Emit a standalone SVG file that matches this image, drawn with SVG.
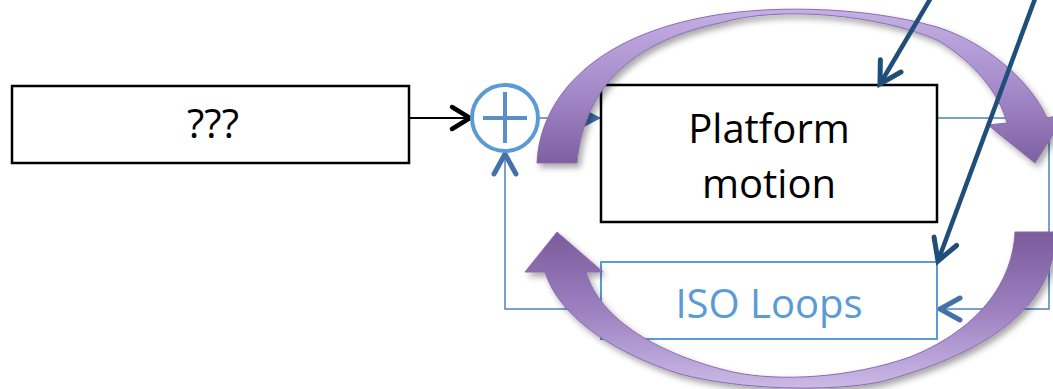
<svg xmlns="http://www.w3.org/2000/svg" width="1053" height="389" viewBox="0 0 1053 389">
<style>
.box{fill:#fff;stroke:#000;stroke-width:2.5}
.iso{fill:#fff;stroke:#5b9bd5;stroke-width:2}
.lbl{font-family:"Open Sans","Liberation Sans",sans-serif;font-size:40px;text-anchor:middle;fill:#000}
.blue{fill:none;stroke:#4f81bd;stroke-width:1.5}
.navy{fill:none;stroke:#1f4e79;stroke-width:4.5}
.purple{stroke:#8a6bb0;stroke-width:1;filter:url(#sh)}
</style>
<defs>
<filter id="sh" x="-10%" y="-10%" width="120%" height="130%">
<feDropShadow dx="3" dy="4" stdDeviation="3" flood-color="#000" flood-opacity="0.35"/>
</filter>
<linearGradient id="gUp" gradientUnits="userSpaceOnUse" x1="0" y1="165" x2="0" y2="10">
<stop offset="0" stop-color="#7d5f9f"/>
<stop offset="0.5" stop-color="#a68bca"/>
<stop offset="1" stop-color="#c4b0e3"/>
</linearGradient>
<linearGradient id="gDn" gradientUnits="userSpaceOnUse" x1="0" y1="232" x2="0" y2="388">
<stop offset="0" stop-color="#7b5b9b"/>
<stop offset="0.5" stop-color="#9c80bf"/>
<stop offset="1" stop-color="#cbb9e7"/>
</linearGradient>
<marker id="chevBlk" markerUnits="userSpaceOnUse" markerWidth="34" markerHeight="34" viewBox="-26 -17 34 34" refX="0" refY="0" orient="auto">
<path d="M-18,-11 L0,0 L-18,11" fill="none" stroke="#000" stroke-width="4.5" stroke-linecap="round"/>
</marker>
<marker id="chevBlue" markerUnits="userSpaceOnUse" markerWidth="36" markerHeight="36" viewBox="-26 -18 36 36" refX="0" refY="0" orient="auto">
<path d="M-20,-11 L0,0 L-20,11" fill="none" stroke="#4472a8" stroke-width="5" stroke-linecap="round"/>
</marker>
<marker id="chevNavy" markerUnits="userSpaceOnUse" markerWidth="36" markerHeight="36" viewBox="-26 -18 36 36" refX="0" refY="0" orient="auto">
<path d="M-21,-12 L0,0 L-21,12" fill="none" stroke="#1f4e79" stroke-width="5" stroke-linecap="round"/>
</marker>
<marker id="triBlue" markerUnits="userSpaceOnUse" markerWidth="24" markerHeight="24" viewBox="-20 -12 24 24" refX="0" refY="0" orient="auto">
<path d="M-17,-9 L0,0 L-17,9 Z" fill="#3d6ea6"/>
</marker>
</defs>

<g id="connectors">
<line x1="410" y1="118" x2="470" y2="118" stroke="#000" stroke-width="2" marker-end="url(#chevBlk)"/>
<line x1="539" y1="118" x2="601" y2="118" class="blue" marker-end="url(#triBlue)"/>
<polyline points="937,118 1049,118 1049,309 940,309" class="blue" stroke="#5b9bd5" marker-end="url(#chevBlue)"/>
<polyline points="601,309 505,309 505,154" class="blue" marker-end="url(#chevBlue)"/>
</g>

<g id="node-unknown">
<rect x="12" y="86" width="397" height="77" class="box"/>
<text x="213" y="138" class="lbl">???</text>
</g>

<g id="node-sum">
<circle cx="505" cy="118" r="33" fill="#fff" stroke="#5b9bd5" stroke-width="4"/>
<line x1="483" y1="118" x2="527" y2="118" stroke="#5b8fc8" stroke-width="4"/>
<line x1="505" y1="92" x2="505" y2="143" stroke="#5b8fc8" stroke-width="4"/>
</g>

<g id="node-platform">
<rect x="601" y="85" width="336" height="137" class="box"/>
<text x="769" y="143" class="lbl">Platform</text>
<text x="769" y="198" class="lbl">motion</text>
</g>

<g id="node-iso">
<rect x="601" y="262" width="336" height="77" class="iso"/>
<text x="769" y="318" class="lbl" style="fill:#5b9bd5">ISO Loops</text>
</g>

<g id="arrow-upper">
<path class="purple" fill="url(#gUp)" d="M537,163 C540,100 590,40 700,18 C760,5 860,5 937,27 C985,42 1030,80 1047,118 L1066,114 L1035,163 L988,125 L1007,123 C1000,95 975,62 937,40 C880,15 780,5 720,23 C640,40 585,80 577,163 Z"/>
</g>

<g id="arrow-lower">
<path class="purple" fill="url(#gDn)" d="M1056,232 C1055,300 1000,350 880,382 C830,392 740,390 680,374 C620,355 560,320 545,272 L525,272 L557,232 L603,272 L586,272 C600,320 660,355 733,372 C780,382 850,378 910,357 C970,333 1012,290 1015,232 Z"/>
</g>

<g id="navy-arrows">
<line x1="932" y1="-4" x2="880" y2="84" class="navy" marker-end="url(#chevNavy)"/>
<line x1="1036" y1="-4" x2="938" y2="261" class="navy" marker-end="url(#chevNavy)"/>
</g>
</svg>
